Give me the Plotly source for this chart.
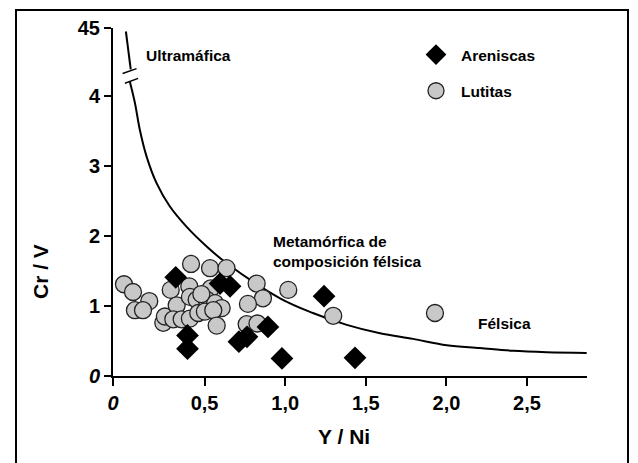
import plotly.graph_objects as go

# --- data ---
arenisca_x = [0.321, 0.596, 0.658, 0.394, 0.394, 0.713, 0.763, 0.893, 0.980, 1.241, 1.433]
arenisca_y = [1.41, 1.32, 1.28, 0.58, 0.39, 0.49, 0.56, 0.70, 0.25, 1.14, 0.26]

lutita_x = [0.000, 0.056, 0.157, 0.068, 0.118, 0.244, 0.254, 0.290, 0.416, 0.534,
            0.636, 0.405, 0.538, 0.327, 0.409, 0.451, 0.513, 0.565, 0.606, 0.306,
            0.358, 0.409, 0.461, 0.502, 0.554, 0.575, 0.823, 0.862, 0.769, 0.761,
            0.828, 1.019, 1.298, 1.929, 0.480]
lutita_y = [1.31, 1.20, 1.07, 0.94, 0.94, 0.76, 0.85, 1.23, 1.60, 1.54,
            1.54, 1.28, 1.25, 1.01, 1.13, 1.09, 1.09, 1.04, 0.97, 0.81,
            0.81, 0.82, 0.90, 0.92, 0.94, 0.72, 1.32, 1.11, 1.03, 0.74,
            0.75, 1.23, 0.86, 0.90, 1.17]

# boundary curve (display units; above 4 the scale is broken up to 45)
curve_top_x = [0.012, 0.042]
curve_top_y = [4.92, 4.38]
curve_x = [0.037, 0.068, 0.099, 0.141, 0.203, 0.285, 0.389, 0.513, 0.637, 0.968,
           1.172, 1.382, 1.588, 1.793, 2.002, 2.208, 2.413, 2.622, 2.870]
curve_y = [4.20, 3.90, 3.51, 3.13, 2.75, 2.42, 2.13, 1.85, 1.61, 1.11,
           0.90, 0.73, 0.61, 0.53, 0.44, 0.40, 0.36, 0.34, 0.33]

# axis break marks on the curve
break1_x = [-0.008, 0.078]
break1_y = [4.32, 4.39]
break2_x = [0.006, 0.088]
break2_y = [4.18, 4.25]

x_range = [-0.068, 2.872]
y_range = [0, 4.97]
x_tickvals = [x_range[0], 0.5, 1.0, 1.5, 2.0, 2.5]
x_ticktext = ["<i>0</i>", "0,5", "1,0", "1,5", "2,0", "2,5"]
y_tickvals = [0, 1, 2, 3, 4, y_range[1]]
y_ticktext = ["<i>0</i>", "1", "2", "3", "4", "45"]

FONT = "Liberation Sans, Arial, sans-serif"

fig = go.Figure()
line_style = dict(color="black", width=2)
fig.add_trace(go.Scatter(x=curve_top_x, y=curve_top_y, mode="lines", line=line_style,
                         showlegend=False, hoverinfo="skip"))
fig.add_trace(go.Scatter(x=curve_x, y=curve_y, mode="lines", line=dict(color="black", width=2, shape="spline"),
                         showlegend=False, hoverinfo="skip"))
for bx, by in [(break1_x, break1_y), (break2_x, break2_y)]:
    fig.add_trace(go.Scatter(x=bx, y=by, mode="lines", line=dict(color="black", width=1.5),
                             showlegend=False, hoverinfo="skip", cliponaxis=False))

fig.add_trace(go.Scatter(x=lutita_x, y=lutita_y, mode="markers", name="Lutitas",
                         legendgroup="b", legendrank=2,
                         marker=dict(symbol="circle", size=17, color="#c8c8c8",
                                     line=dict(color="#222222", width=1.3))))
fig.add_trace(go.Scatter(x=arenisca_x, y=arenisca_y, mode="markers", name="Areniscas",
                         legendgroup="a", legendrank=1,
                         marker=dict(symbol="diamond", size=17.5, color="black",
                                     line=dict(color="black", width=0))))

# positions in paper fraction of the plot area
def px(xp):
    return (xp - 113) / (587 - 113)

def py(yp):
    return (376 - yp) / (376 - 28)

fig.update_layout(
    width=638, height=463,
    margin=dict(l=113, r=51, t=28, b=87),
    paper_bgcolor="white", plot_bgcolor="white",
    font=dict(family=FONT, color="black"),
    showlegend=True,
    legend=dict(x=px(411), y=py(38), xanchor="left", yanchor="top", traceorder="grouped",
                font=dict(family=FONT, size=15.5, color="black", weight="bold"), bgcolor="rgba(0,0,0,0)",
                itemsizing="trace", itemwidth=40, tracegroupgap=13),
    xaxis=dict(range=x_range, tickvals=x_tickvals, ticktext=x_ticktext,
               showgrid=False, zeroline=False, showline=True, linecolor="black", linewidth=2,
               ticks="outside", ticklen=8, tickwidth=2, tickcolor="black",
               tickfont=dict(family=FONT, size=20, color="black", weight="bold")),
    yaxis=dict(range=y_range, tickvals=y_tickvals, ticktext=y_ticktext,
               showgrid=False, zeroline=False, showline=True, linecolor="black", linewidth=2,
               ticks="outside", ticklen=7, tickwidth=2, tickcolor="black",
               tickfont=dict(family=FONT, size=20, color="black", weight="bold")),
)

def note(text, x, y, size=15.5, xanchor="left", textangle=0):
    fig.add_annotation(text=text, x=x, y=y, xref="paper", yref="paper", showarrow=False,
                       xanchor=xanchor, yanchor="middle", align="left", textangle=textangle,
                       font=dict(family=FONT, size=size, color="black", weight="bold"))

note("Ultramáfica", px(144), py(55))
note("Metamórfica de<br>composición félsica", px(271), py(251))
note("Félsica", px(476), py(323))
note("Y / Ni", px(344), py(436), size=21, xanchor="center")
note("Cr / V", px(40), py(272), size=21, xanchor="center", textangle=-90)

# outer frame
fig.add_shape(type="rect", xref="paper", yref="paper", x0=px(16), x1=px(628), y0=py(470), y1=py(10),
              line=dict(color="black", width=2), fillcolor="rgba(0,0,0,0)", layer="below")

fig.write_html("out.html")
